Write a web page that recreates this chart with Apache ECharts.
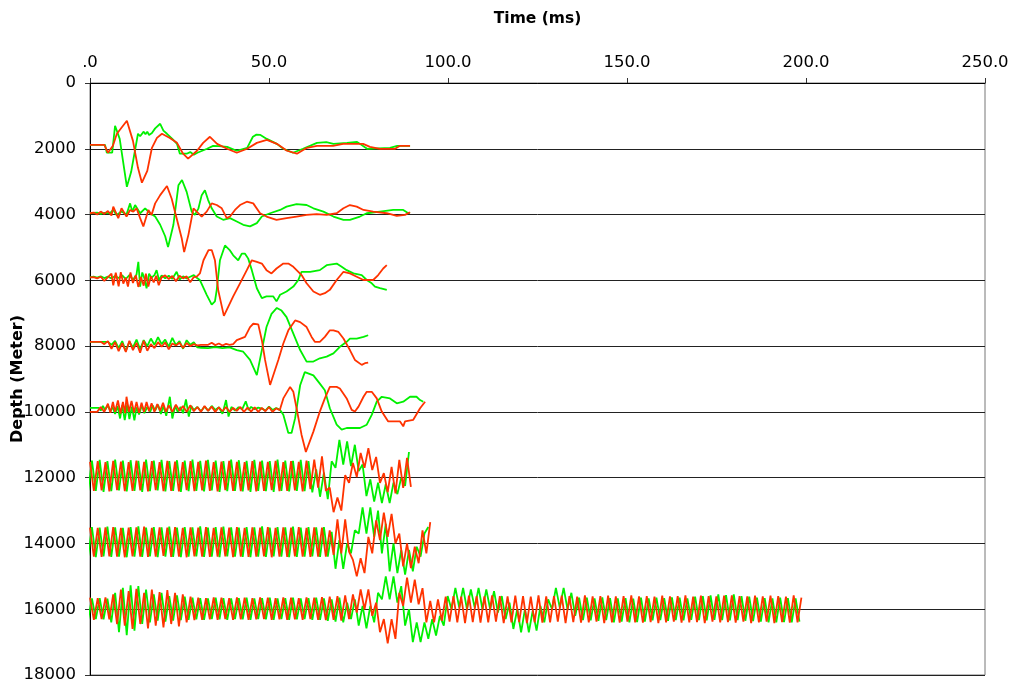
<!DOCTYPE html>
<html>
<head>
<meta charset="utf-8">
<script src="https://cdn.jsdelivr.net/npm/echarts@6/dist/echarts.min.js"></script>
<style>
  html, body { margin: 0; padding: 0; background: #fff; }
  #chart { width: 1009px; height: 682px; }
</style>
</head>
<body>
<div id="chart"></div>
<script>
// Axis ticks and their printed labels
const TIME_TICKS = [0, 50, 100, 150, 200, 250];
const TIME_LABELS = ['.0', '50.0', '100.0', '150.0', '200.0', '250.0'];
const DEPTH_TICKS = [0, 2000, 4000, 6000, 8000, 10000, 12000, 14000, 16000, 18000];

// Receiver depths (m) of the eight traces
const TRACE_DEPTHS = [2000, 4000, 6000, 8000, 10000, 12000, 14000, 16000];

// Shallow traces: [time ms, amplitude m] picks (positive = upward)
const green2000 = [[0,120],[4.2,120],[4.7,-120],[6.2,-120],[7,700],[8.3,300],[10.3,-1155],[11.5,-700],[13.4,456],[14,380],[14.5,420],[15,520],[15.5,440],[16,520],[16.5,420],[17.3,480],[18.2,620],[19.6,760],[20.5,550],[21.5,456],[23,300],[24.3,150],[25.1,-150],[27,-150],[28,-100],[29,-180],[30,-120],[32.7,0],[34.4,90],[36,80],[38.3,60],[41,-60],[43.9,30],[45.5,365],[46.5,430],[47.5,425],[48.5,360],[49.4,300],[52.2,150],[54,0],[56.7,-120],[59.5,0],[63.4,180],[66,200],[68,150],[71.8,180],[74.6,210],[77.4,0],[83.8,30],[85.8,90],[89.4,90]];
const red2000 = [[0,120],[4,120],[5,-120],[6.4,90],[7.5,456],[10.3,850],[12,240],[13.4,-580],[14.5,-1030],[16,-670],[17.3,30],[18.7,330],[20.1,456],[22.3,330],[24.3,180],[26,-150],[27.4,-300],[29.9,-60],[31.6,180],[33.5,365],[35.5,150],[38.3,0],[41,-120],[43.9,0],[46.6,180],[49.4,270],[52.2,150],[55,-60],[57.8,-150],[60.6,30],[63.4,90],[67.9,90],[70.7,150],[76.3,150],[78.2,60],[81,0],[85.2,0],[86.6,90],[89.4,90]];

const green4000 = [[0,40],[2,60],[3,20],[4,50],[5.6,40],[6.5,140],[7.4,-10],[8.8,90],[10.2,0],[11.2,340],[11.8,90],[12.6,290],[14,40],[15.4,190],[16.8,40],[18.2,-60],[19.6,-310],[21,-660],[21.8,-990],[23.3,-310],[24.7,890],[25.7,1050],[27,690],[28.4,90],[29.3,-10],[30.3,190],[31.2,590],[32.1,740],[33,440],[34,190],[35.4,-60],[37.2,-160],[39.1,-110],[41,-210],[42.8,-310],[44.7,-360],[46.6,-260],[48,-60],[50.3,40],[53.1,140],[54.9,240],[57.7,320],[60.5,290],[62.4,190],[65.2,90],[68,-60],[70.8,-160],[72.6,-160],[75.4,-60],[77.3,40],[81,90],[84.7,140],[87.5,140],[88.5,70],[89.4,40]];
const red4000 = [[0,40],[1,60],[2,0],[3,90],[4,20],[5,110],[6,-30],[6.5,240],[7.9,-110],[8.8,190],[10.2,-60],[11.2,140],[12.1,90],[13,190],[14,-110],[14.9,-360],[16.3,140],[17.2,-10],[18.2,340],[19.6,590],[21.5,870],[22.8,490],[24.2,-110],[25.6,-710],[26.3,-1140],[27.5,-610],[28.9,190],[29.8,90],[31.2,-60],[32.6,90],[34,340],[35.4,290],[36.8,190],[38.2,-110],[39.1,-60],[40.5,140],[41.9,290],[43.8,390],[45.6,340],[47.5,40],[49.3,-60],[52.1,-160],[54.9,-110],[57.7,-60],[60.5,-10],[63.3,10],[66.1,-10],[68.9,40],[70.8,190],[72.6,290],[74.5,240],[76.4,140],[79.1,90],[82.9,40],[85.7,-40],[88,-10],[89.4,70]];

const green6000 = [[0,90],[1,110],[2,80],[3,120],[4,70],[5,110],[6,60],[7,130],[8,70],[9,150],[10,40],[11,160],[12,20],[13,180],[13.5,560],[14,-190],[14.6,240],[15.2,60],[15.8,-240],[16.5,200],[17.2,80],[18,160],[18.6,310],[19.3,0],[20,150],[21,60],[22,140],[23,50],[24.2,260],[25,20],[26,120],[27,60],[28,110],[29,160],[30,60],[30.7,10],[32.6,-440],[34,-740],[34.9,-640],[35.4,-290],[36.3,610],[37.7,1060],[39.1,910],[40,760],[41.4,610],[42.4,810],[43.3,810],[44.2,660],[45.2,310],[46.6,-240],[48,-540],[49.3,-490],[51.2,-490],[52.1,-640],[53.1,-440],[54.9,-340],[56.8,-190],[58.2,10],[59.1,260],[61.5,260],[64.2,310],[66.1,460],[68.9,510],[70.3,410],[71.7,310],[73.6,210],[75.9,160],[77.3,10],[78.7,-90],[79.6,-190],[81,-240],[82.9,-290]];
const red6000 = [[0,90],[1,100],[2,60],[3,110],[4,-20],[5,100],[6,200],[6.5,-150],[7.2,230],[8,-180],[8.6,250],[9.3,-100],[10,80],[10.6,-190],[11.3,240],[12,-80],[12.8,150],[13.5,-200],[14.2,100],[15,-160],[15.6,200],[16.3,-190],[17,120],[17.8,-60],[18.5,140],[19.2,-150],[20,90],[21,150],[22,40],[23,130],[24,-30],[25,140],[26,60],[27,120],[28,-60],[29,100],[29.8,110],[30.7,210],[31.7,610],[33.1,920],[34,920],[34.9,610],[35.8,-290],[37.4,-1080],[40,-490],[41.9,-90],[43.8,310],[45.2,610],[46.6,560],[48,510],[49.3,310],[50.7,210],[52.1,360],[54,510],[55.4,510],[56.8,410],[58.2,260],[59.1,160],[60.5,-90],[62.4,-340],[64.2,-440],[65.6,-390],[67,-290],[68.9,10],[70.8,260],[72.6,210],[74.5,110],[76.4,10],[79.1,10],[80.5,160],[81.9,360],[82.9,460]];

const green8000 = [[0,130],[5,130],[6,40],[7,160],[8,-60],[9,150],[10,-150],[11,130],[12,-40],[13,200],[14,-100],[15,180],[16,0],[17,230],[18,40],[19,270],[20,60],[21,200],[22,-20],[23,250],[24,30],[25,150],[26,-80],[27,180],[28,40],[29,120],[30,-40],[31,-50],[33,-60],[35,-30],[37,-60],[39,-40],[41,-120],[42.8,-170],[44.7,-420],[46.6,-880],[48,-120],[49.3,580],[50.7,980],[52.2,1160],[53.5,1080],[54.9,880],[56.8,380],[58.7,-120],[60.5,-470],[62.4,-470],[64.2,-370],[66.1,-320],[68,-220],[69.8,-20],[71.7,130],[72.6,230],[74.5,230],[76.4,280],[77.7,330]];
const red8000 = [[0,130],[3,130],[4,60],[5,150],[6,-80],[7,120],[8,-150],[9,90],[10,-180],[11,160],[12,-120],[13,100],[14,-200],[15,160],[16,-140],[17,60],[18,-60],[19,120],[20,-20],[21,110],[22,-100],[23,80],[24,20],[25,100],[26,-60],[27,90],[28,0],[29,60],[30,20],[31,40],[33,40],[34,100],[35,30],[36,80],[37,20],[38,70],[39,40],[40,60],[41,180],[43.3,280],[44.7,580],[45.6,680],[47,660],[48,180],[48.9,-420],[50.3,-1180],[52.6,-420],[54,80],[55.4,480],[57.3,780],[58.7,730],[60.5,580],[61.9,280],[62.8,130],[64.2,130],[65.6,280],[67,480],[68,480],[69.4,430],[70.8,230],[72.6,-120],[74,-420],[75.9,-570],[76.8,-520],[77.7,-500]];

const green10000 = [[0,120],[2.5,120],[3,40],[3.6,180],[4.2,60],[5,200],[5.7,20],[6.3,150],[7,-60],[7.7,180],[8.4,-200],[9,200],[9.7,-250],[10.4,220],[11,-220],[11.7,160],[12.4,-260],[13,140],[13.7,-80],[14.5,200],[15.2,-40],[16,150],[16.8,0],[17.5,200],[18.2,40],[19,220],[19.8,-60],[20.5,180],[21.3,-120],[22.3,460],[23,-200],[23.8,180],[24.5,0],[25.3,150],[26,-40],[26.8,380],[27.6,-140],[28.3,180],[29,60],[30,150],[31,20],[32,160],[33,40],[34,180],[35,60],[36,140],[37,-60],[38,360],[38.7,-140],[39.5,150],[40.5,40],[41.5,140],[42.5,80],[43.5,320],[44.3,60],[45,150],[46,80],[47,130],[48,100],[49,40],[50,160],[51,60],[52,120],[53.1,60],[54,-90],[55.4,-640],[56.3,-640],[57.3,-190],[58.7,810],[60,1210],[62.4,1110],[64.2,860],[65.6,660],[67,110],[68.9,-390],[70.3,-540],[71.7,-490],[75.4,-490],[77.3,-390],[78.7,-90],[80.1,310],[81.5,460],[83.8,410],[85.7,260],[87.5,310],[89.4,460],[91.2,460],[92.2,360],[93.1,310]];
const red10000 = [[0,0],[2,0],[3,150],[4,0],[5,250],[5.7,-30],[6.4,300],[7,0],[7.8,350],[8.5,-50],[9.2,300],[9.8,-40],[10.2,460],[10.9,0],[11.6,330],[12.3,-20],[13,300],[13.7,-30],[14.4,280],[15.1,0],[15.8,300],[16.5,20],[17.2,260],[18,0],[18.8,240],[19.6,30],[20.4,280],[21.2,0],[22,200],[23,0],[24,220],[25,30],[26,180],[27,0],[28,200],[29,20],[30,150],[31,0],[32,180],[33,30],[34,160],[35,0],[36,140],[37,20],[38,150],[39,0],[40,120],[41,30],[42,150],[43,0],[44,130],[45,10],[46,140],[47,0],[48,120],[49,20],[50,150],[51,0],[52,110],[53,50],[54,410],[55.9,760],[56.8,610],[57.7,110],[59.1,-700],[60.3,-1220],[62.4,-600],[64.2,10],[65.6,410],[67,760],[68.9,760],[69.8,710],[71.7,410],[73.1,60],[74,10],[75,160],[76.4,460],[77.3,610],[78.7,610],[80.1,410],[81.5,10],[83.3,-290],[86.6,-290],[87.5,-440],[88,-290],[90.3,-240],[92.2,110],[93.6,310]];

// Deep traces: amplitudes (m) sampled every SAMPLE_MS; the green channel
// starts half a sample earlier than the red one
const SAMPLE_MS = 1.08;
const RED_START_MS = 0;
const GREEN_START_MS = -0.54;
const green12000 = [
  -420,520,-400,540,-430,500,-410,550,-390,520,
  -420,530,-400,510,-430,550,-410,520,-390,540,
  -420,500,-400,530,-430,520,-410,550,-400,510,
  -420,540,-390,520,-430,500,-410,550,-400,530,
  -420,510,-430,540,-400,520,-410,500,-430,550,
  -400,520,-420,510,-400,540,-410,500,
  -450,250,-580,150,-650,500,300,1150,400,1100,350,1000,200,400,-560,-50,-730,-150,-770,-200,-770,-150,-500,0,-250,780
];
const red12000 = [
  480,-400,500,-390,470,-420,510,-380,490,-410,
  470,-400,520,-390,480,-420,500,-380,470,-410,
  510,-400,490,-420,470,-380,500,-410,480,-390,
  520,-400,470,-420,490,-380,510,-400,480,-410,
  470,-390,500,-420,490,-400,480,-380,510,-410,
  470,-400,500,-390,480,-420,520,-350,
  550,-300,650,-400,-300,-1050,-600,-1000,80,-160,450,20,750,300,900,230,630,-160,140,-440,330,-480,540,-310,600,-280
];
const green14000 = [
  -400,500,-420,480,-390,510,-410,490,-400,470,
  -420,500,-400,520,-410,480,-390,500,-420,490,
  -400,510,-410,480,-420,500,-400,490,-390,520,
  -410,480,-400,500,-420,510,-390,490,-400,480,
  -410,500,-420,490,-400,520,-410,480,-390,500,
  -400,490,-420,510,-410,480,-400,500,-390,490,
  -410,500,
  -400,350,-770,100,-770,0,-300,400,300,1100,300,1100,200,1000,-300,600,-850,0,-900,-200,-950,-200,-850,-100,-400,300,500
];
const red14000 = [
  480,-400,470,-410,490,-390,500,-400,470,-420,
  480,-390,490,-400,510,-410,470,-400,490,-380,
  480,-410,500,-400,470,-420,490,-390,480,-400,
  500,-410,470,-400,490,-390,480,-420,500,-400,
  470,-410,490,-400,480,-390,500,-420,470,-400,
  490,-410,480,-390,500,-400,470,-410,490,-400,
  480,-400,
  400,-350,730,-300,730,-250,-500,-1000,-450,-900,200,-300,700,100,940,200,900,0,300,-700,0,-750,-100,-600,400,-300,650
];
const green16000 = [
  -320,330,-300,340,-310,320,-400,500,-700,650,
  -790,730,-650,700,-450,600,-400,450,-350,500,
  -380,400,-350,420,-330,380,-320,350,-310,340,
  -320,330,-300,350,-310,340,-320,330,-300,340,
  -310,350,-320,330,-300,340,-310,350,-320,330,
  -300,340,-320,350,-310,330,-300,340,-320,350,
  -320,330,-350,300,-380,350,-400,200,
  -300,300,-500,100,-580,100,-400,500,300,1000,300,1000,200,700,-500,0,-1000,-400,-1000,-400,-900,-300,-800,-200,-500,
  400,0,650,50,650,0,600,50,650,0,600,0,550,-100,400,-300,200,-600,0,-700,0,-700,-50,-650,100,-400,300,0,650,50,650,0,500,-200,350,
  -330,350,-340,330,-350,360,-330,340,-400,330,
  -380,340,-400,320,-390,350,-380,330,-340,350,
  -330,340,-350,360,-330,350,-340,330,-320,380,
  -330,400,-340,420,-320,450,-330,430,-340,450,
  -330,400,-350,380,-360,350,-380,340,-400,330,
  -400,350,-390,340,-400,330,-380
];
const red16000 = [
  350,-320,340,-300,360,-310,450,-450,600,-500,
  550,-600,620,-450,500,-580,600,-500,520,-550,
  580,-450,500,-520,450,-400,380,-330,350,-320,
  340,-310,360,-320,350,-300,340,-320,360,-310,
  350,-320,340,-310,360,-300,350,-320,340,-310,
  360,-320,350,-310,340,-320,360,-300,350,-320,
  370,-330,380,-320,400,-350,420,-300,
  450,-100,600,0,600,-200,200,-700,-300,-1040,-300,-900,500,100,960,200,900,150,640,-400,250,-400,300,-350,380,
  -380,400,-400,380,-420,410,-390,400,-410,390,
  -400,420,-380,400,-420,390,-400,410,-390,400,
  -420,380,-400,420,-410,390,-400,400,-380,410,
  -420,400,-390,380,-410,420,-400,390,-380,400,
  -420,410,-400,390,-410,400,-380,420,-400,390,
  -410,400,-390,380,-420,410,-400,390,-380,400,
  -410,420,-400,380,-390,410,-420,400,-380,390,
  -400,410,-390,420,-410,400,-380,390,-420,410,
  -400,390,-380,410,-420,400,-390,380,-410,420,
  -400,350
];

const GREEN = '#00f000';
const RED = '#ff3300';
const FONT = 'DejaVu Sans';

// Each trace is drawn around its receiver depth; upward swing = shallower depth
function fromPicks(base, picks) {
  return picks.map(([t, a]) => [t, base - a]);
}
function fromSamples(base, amps, t0) {
  return amps.map((a, i) => [t0 + i * SAMPLE_MS, base - a]);
}

const traces = [
  { base: TRACE_DEPTHS[0], green: fromPicks(TRACE_DEPTHS[0], green2000), red: fromPicks(TRACE_DEPTHS[0], red2000) },
  { base: TRACE_DEPTHS[1], green: fromPicks(TRACE_DEPTHS[1], green4000), red: fromPicks(TRACE_DEPTHS[1], red4000) },
  { base: TRACE_DEPTHS[2], green: fromPicks(TRACE_DEPTHS[2], green6000), red: fromPicks(TRACE_DEPTHS[2], red6000) },
  { base: TRACE_DEPTHS[3], green: fromPicks(TRACE_DEPTHS[3], green8000), red: fromPicks(TRACE_DEPTHS[3], red8000) },
  { base: TRACE_DEPTHS[4], green: fromPicks(TRACE_DEPTHS[4], green10000), red: fromPicks(TRACE_DEPTHS[4], red10000) },
  { base: TRACE_DEPTHS[5], green: fromSamples(TRACE_DEPTHS[5], green12000, GREEN_START_MS), red: fromSamples(TRACE_DEPTHS[5], red12000, RED_START_MS) },
  { base: TRACE_DEPTHS[6], green: fromSamples(TRACE_DEPTHS[6], green14000, GREEN_START_MS), red: fromSamples(TRACE_DEPTHS[6], red14000, RED_START_MS) },
  { base: TRACE_DEPTHS[7], green: fromSamples(TRACE_DEPTHS[7], green16000, GREEN_START_MS), red: fromSamples(TRACE_DEPTHS[7], red16000, RED_START_MS) }
];

function lineSeries(name, data, color, z) {
  return {
    name, type: 'line', data, z, clip: true,
    showSymbol: false, symbol: 'none', smooth: false,
    lineStyle: { color, width: 1.8 },
    emphasis: { disabled: true }
  };
}

const series = [];
traces.forEach(tr => series.push(lineSeries('Green ' + tr.base, tr.green, GREEN, 2)));
traces.forEach(tr => series.push(lineSeries('Red ' + tr.base, tr.red, RED, 3)));

const chart = echarts.init(document.getElementById('chart'), null, { renderer: 'canvas' });
chart.setOption({
  animation: false,
  backgroundColor: '#fff',
  grid: {
    left: 90, right: 24, top: 83, bottom: 7,
    containLabel: false, outerBoundsMode: 'none',
    show: true, borderColor: '#777', borderWidth: 1
  },
  xAxis: {
    type: 'value', position: 'top', min: TIME_TICKS[0], max: TIME_TICKS[TIME_TICKS.length - 1], interval: 50,
    name: 'Time (ms)', nameLocation: 'middle', nameGap: 56, nameMoveOverlap: false,
    nameTextStyle: { fontFamily: FONT, fontWeight: 'bold', fontSize: 15.5, color: '#000' },
    axisLine: { show: true, lineStyle: { color: '#000', width: 1 } },
    axisTick: { show: true, length: 5, lineStyle: { color: '#333' } },
    axisLabel: {
      formatter: v => TIME_LABELS[TIME_TICKS.indexOf(v)],
      fontFamily: FONT, fontSize: 16.5, color: '#000', margin: 12
    },
    splitLine: { show: false }
  },
  yAxis: {
    type: 'value', inverse: true, min: DEPTH_TICKS[0], max: DEPTH_TICKS[DEPTH_TICKS.length - 1], interval: 2000,
    name: 'Depth (Meter)', nameLocation: 'middle', nameGap: 64, nameRotate: 90, nameMoveOverlap: false,
    nameTextStyle: { fontFamily: FONT, fontWeight: 'bold', fontSize: 16, color: '#000' },
    axisLine: { show: true, lineStyle: { color: '#000', width: 1 } },
    axisTick: { show: true, length: 5, lineStyle: { color: '#333' } },
    axisLabel: {
      formatter: v => String(DEPTH_TICKS[DEPTH_TICKS.indexOf(v)]),
      fontFamily: FONT, fontSize: 16.5, color: '#000', margin: 14
    },
    splitLine: { show: true, lineStyle: { color: '#222', width: 1 } }
  },
  series
});
</script>
</body>
</html>
